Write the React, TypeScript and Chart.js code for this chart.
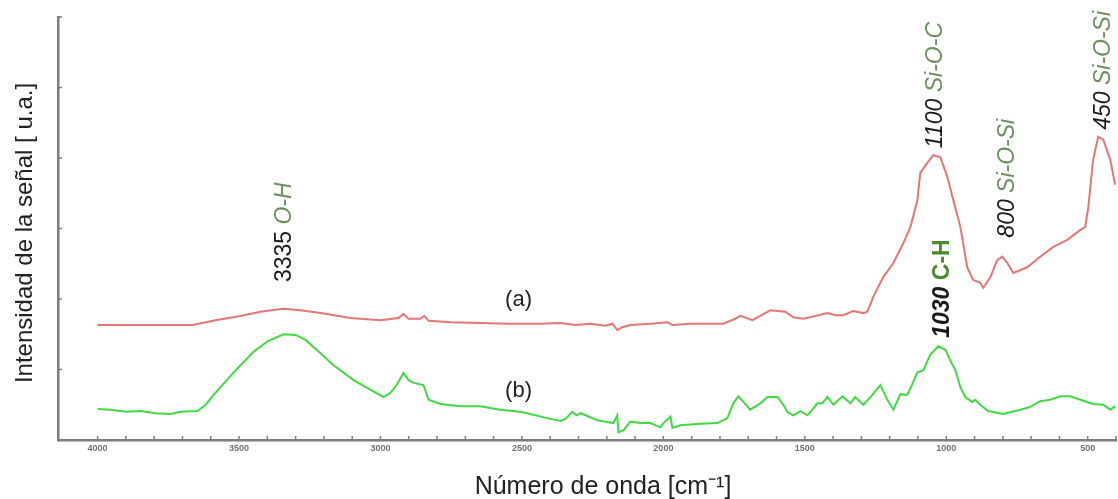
import React, { useEffect, useRef } from 'react';
import { Chart, registerables } from 'chart.js';

Chart.register(...registerables);

// ---- Data ----
const seriesNames = ['(a)', '(b)'];

const redWavenumber = [
  4000, 3883, 3664, 3583, 3495, 3424, 3343, 3283, 3212, 3106, 3000, 2936, 2919, 2901, 2859, 2845, 2830,
  2753, 2647, 2541, 2435, 2364, 2311, 2258, 2205, 2180, 2163, 2145, 2117, 2046, 1986, 1968, 1905, 1788,
  1746, 1728, 1685, 1622, 1569, 1541, 1505, 1463, 1420, 1392, 1364, 1329, 1293, 1279, 1258, 1223, 1187,
  1152, 1127, 1102, 1092, 1067, 1046, 1021, 996, 975, 950, 926, 905, 880, 869, 844, 820, 802, 784, 763,
  714, 668, 622, 572, 526, 509, 498, 481, 463, 445, 420, 403,
];
const redIntensity = [
  1.63, 1.63, 1.63, 1.7, 1.76, 1.82, 1.86, 1.84, 1.8, 1.73, 1.7, 1.73, 1.79, 1.72, 1.72, 1.76, 1.69,
  1.67, 1.66, 1.65, 1.65, 1.66, 1.63, 1.65, 1.62, 1.65, 1.56, 1.6, 1.63, 1.65, 1.67, 1.63, 1.65, 1.65,
  1.72, 1.76, 1.7, 1.84, 1.82, 1.74, 1.72, 1.76, 1.8, 1.77, 1.77, 1.83, 1.8, 1.82, 2.03, 2.31, 2.51,
  2.79, 3.02, 3.4, 3.79, 3.93, 4.04, 4.01, 3.73, 3.4, 3.02, 2.45, 2.27, 2.23, 2.16, 2.31, 2.55, 2.6, 2.51, 2.37,
  2.45, 2.6, 2.74, 2.84, 2.98, 3.02, 3.3, 3.97, 4.3, 4.26, 3.97, 3.62,
];

const greenWavenumber = [
  4000, 3954, 3901, 3848, 3795, 3742, 3707, 3647, 3618, 3590, 3519, 3449, 3399, 3343, 3300, 3265, 3212,
  3166, 3095, 3035, 2989, 2965, 2943, 2919, 2901, 2883, 2848, 2830, 2788, 2717, 2647, 2576, 2505, 2410,
  2364, 2346, 2322, 2307, 2293, 2269, 2233, 2205, 2177, 2163, 2159, 2141, 2117, 2081, 2046, 2011, 2000,
  1975, 1968, 1940, 1869, 1809, 1774, 1753, 1735, 1717, 1693, 1657, 1632, 1597, 1576, 1562, 1541, 1516,
  1491, 1473, 1456, 1438, 1420, 1399, 1367, 1339, 1322, 1293, 1261, 1233, 1208, 1187, 1162, 1138, 1117,
  1102, 1081, 1057, 1028, 1003, 986, 968, 950, 933, 908, 897, 880, 852, 799, 738, 703, 668, 632, 597, 562,
  526, 481, 445, 420, 403,
];
const greenIntensity = [
  0.44, 0.43, 0.4, 0.41, 0.38, 0.37, 0.4, 0.41, 0.5, 0.64, 0.96, 1.25, 1.4, 1.5, 1.49, 1.42, 1.23,
  1.06, 0.85, 0.71, 0.61, 0.67, 0.78, 0.95, 0.85, 0.81, 0.78, 0.57, 0.51, 0.48, 0.48, 0.43, 0.4, 0.31,
  0.27, 0.3, 0.4, 0.35, 0.38, 0.34, 0.28, 0.26, 0.24, 0.35, 0.11, 0.14, 0.26, 0.24, 0.24, 0.18, 0.24,
  0.33, 0.17, 0.21, 0.23, 0.24, 0.31, 0.52, 0.62, 0.54, 0.43, 0.52, 0.61, 0.61, 0.5, 0.4, 0.35, 0.41,
  0.35, 0.43, 0.52, 0.52, 0.61, 0.5, 0.62, 0.52, 0.61, 0.5, 0.64, 0.78, 0.57, 0.43, 0.65, 0.64, 0.82,
  0.96, 0.99, 1.21, 1.33, 1.28, 1.13, 0.99, 0.75, 0.61, 0.54, 0.57, 0.5, 0.41, 0.37, 0.43, 0.47, 0.55, 0.57, 0.62, 0.62,
  0.57, 0.51, 0.5, 0.43, 0.48,
];

const xTickValues = [4000, 3500, 3000, 2500, 2000, 1500, 1000, 500];
const xTickLabels = ['4000', '3500', '3000', '2500', '2000', '1500', '1000', '500'];
const xMinorTicks = [
  4000, 3900, 3800, 3700, 3600, 3500, 3400, 3300, 3200, 3100, 3000, 2900, 2800, 2700, 2600, 2500, 2400,
  2300, 2200, 2100, 2000, 1900, 1800, 1700, 1600, 1500, 1400, 1300, 1200, 1100, 1000, 900, 800, 700, 600,
  500, 400,
];
const yTickValues = [1, 2, 3, 4, 5, 6];

const xTitle = 'Número de onda [cm⁻¹]';
const yTitle = 'Intensidad de la señal [ u.a.]';

// Peak annotations: [wavenumber, intensity at text start]
const peakNumbers = ['3335', '1100', '800', '450', '1030'];
const peakGroups = ['O-H', 'Si-O-C', 'Si-O-Si', 'Si-O-Si', 'C-H'];
const peakWavenumber = [3340, 1039, 784, 445, 1011];
const peakIntensity = [2.24, 4.14, 2.87, 4.4, 1.45];

const seriesLabelWavenumber = [2512, 2512];
const seriesLabelIntensity = [1.99, 0.7];

const X_MIN = 400;
const X_MAX = 4140;
const Y_MIN = 0;
const Y_MAX = 6;

const FONT = '"Liberation Sans", Arial, sans-serif';
const AXIS_COLOR = '#7d7d7d';

const peakStyles = [
  { numFont: `normal 23px ${FONT}`, grpFont: `italic 23px ${FONT}`, grpColor: '#6a8f5c' },
  { numFont: `italic 23px ${FONT}`, grpFont: `italic 23px ${FONT}`, grpColor: '#6e8d60' },
  { numFont: `italic 23px ${FONT}`, grpFont: `italic 23px ${FONT}`, grpColor: '#6e8d60' },
  { numFont: `italic 23px ${FONT}`, grpFont: `italic 23px ${FONT}`, grpColor: '#6e8d60' },
  { numFont: `italic bold 23px ${FONT}`, grpFont: `bold 23px ${FONT}`, grpColor: '#4b8a2e' },
];

const overlayPlugin = {
  id: 'overlay',
  afterDraw(chart: any) {
    const { ctx, chartArea, scales } = chart;
    const xs = scales.x;
    const ys = scales.y;
    ctx.save();
    // inward tick marks
    ctx.strokeStyle = AXIS_COLOR;
    ctx.lineWidth = 1.5;
    ctx.beginPath();
    xMinorTicks.forEach((v) => {
      const px = xs.getPixelForValue(v);
      ctx.moveTo(px, chartArea.bottom);
      ctx.lineTo(px, chartArea.bottom - 4);
    });
    yTickValues.forEach((v) => {
      const py = ys.getPixelForValue(v);
      ctx.moveTo(chartArea.left, py);
      ctx.lineTo(chartArea.left + 4, py);
    });
    ctx.stroke();

    // axis titles
    ctx.fillStyle = '#222';
    ctx.textAlign = 'center';
    ctx.textBaseline = 'middle';
    ctx.font = `25px ${FONT}`;
    ctx.fillText(xTitle, 603, 487);
    ctx.save();
    ctx.translate(25, 233);
    ctx.rotate(-Math.PI / 2);
    ctx.font = `24px ${FONT}`;
    ctx.fillText(yTitle, 0, 0);
    ctx.restore();

    // series labels
    ctx.fillStyle = '#222';
    ctx.font = `22px ${FONT}`;
    ctx.textAlign = 'center';
    ctx.textBaseline = 'middle';
    seriesNames.forEach((name, i) => {
      ctx.fillText(name, xs.getPixelForValue(seriesLabelWavenumber[i]), ys.getPixelForValue(seriesLabelIntensity[i]));
    });

    // rotated peak annotations
    peakNumbers.forEach((num, i) => {
      const st = peakStyles[i];
      const px = xs.getPixelForValue(peakWavenumber[i]);
      const py = ys.getPixelForValue(peakIntensity[i]);
      ctx.save();
      ctx.translate(px, py);
      ctx.rotate(-Math.PI / 2);
      ctx.textAlign = 'left';
      ctx.textBaseline = 'middle';
      ctx.font = st.numFont;
      ctx.fillStyle = '#1a1a1a';
      const t1 = num + ' ';
      ctx.fillText(t1, 0, 0);
      const w1 = ctx.measureText(t1).width;
      ctx.font = st.grpFont;
      ctx.fillStyle = st.grpColor;
      ctx.fillText(peakGroups[i], w1, 0);
      ctx.restore();
    });
    ctx.restore();
  },
};

export default function App() {
  const canvasRef = useRef<HTMLCanvasElement | null>(null);

  useEffect(() => {
    if (!canvasRef.current) return;
    const redData = redWavenumber.map((x, i) => ({ x, y: redIntensity[i] }));
    const greenData = greenWavenumber.map((x, i) => ({ x, y: greenIntensity[i] }));
    const chart = new Chart(canvasRef.current, {
      type: 'line',
      data: {
        datasets: [
          {
            label: seriesNames[0],
            data: redData,
            borderColor: '#e47676',
            borderWidth: 2,
            pointRadius: 0,
            tension: 0,
          },
          {
            label: seriesNames[1],
            data: greenData,
            borderColor: '#42d842',
            borderWidth: 2,
            pointRadius: 0,
            tension: 0,
          },
        ],
      },
      options: {
        animation: false,
        responsive: false,
        maintainAspectRatio: false,
        layout: { padding: { top: 17, right: 2, left: 0, bottom: 0 } },
        plugins: { legend: { display: false }, tooltip: { enabled: false } },
        scales: {
          x: {
            type: 'linear',
            reverse: true,
            min: X_MIN,
            max: X_MAX,
            afterBuildTicks: (scale: any) => {
              scale.ticks = xTickValues.map((v) => ({ value: v }));
            },
            afterFit: (scale: any) => {
              scale.height = 59;
            },
            grid: { display: false, drawTicks: false },
            border: { display: true, color: AXIS_COLOR, width: 2.5 },
            ticks: {
              autoSkip: false,
              maxRotation: 0,
              padding: 3,
              color: '#707070',
              font: { family: FONT, size: 9, weight: 'bold' },
              callback: (v: any) => {
                const idx = xTickValues.indexOf(Number(v));
                return idx >= 0 ? xTickLabels[idx] : '';
              },
            },
            title: { display: false },
          },
          y: {
            type: 'linear',
            min: Y_MIN,
            max: Y_MAX,
            afterBuildTicks: (scale: any) => {
              scale.ticks = yTickValues.map((v) => ({ value: v }));
            },
            afterFit: (scale: any) => {
              scale.width = 58;
            },
            grid: { display: false, drawTicks: false },
            border: { display: true, color: AXIS_COLOR, width: 2.5 },
            ticks: { display: false },
            title: { display: false },
          },
        },
      },
      plugins: [overlayPlugin],
    } as any);
    return () => chart.destroy();
  }, []);

  return (
    <div style={{ position: 'fixed', left: 0, top: 0, width: 1118, height: 499, background: '#fff' }}>
      <canvas ref={canvasRef} width={1118} height={499} style={{ display: 'block', width: 1118, height: 499 }} />
    </div>
  );
}
